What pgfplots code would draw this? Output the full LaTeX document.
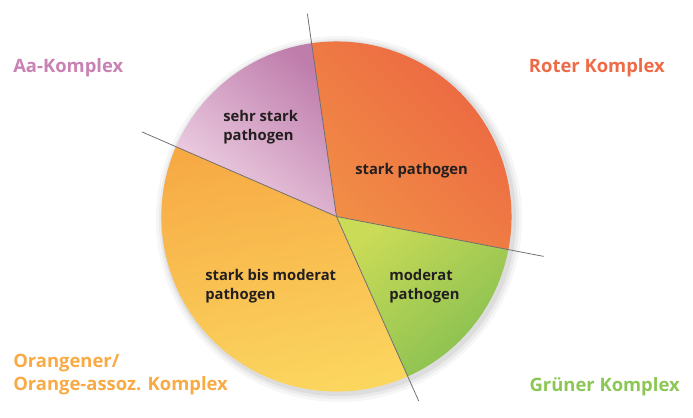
\documentclass[border=0pt]{standalone}
\usepackage{fontspec}
\setmainfont{Open Sans}
\usepackage{pgfplots}
\pgfplotsset{compat=1.18}

% slice shares in percent, counter-clockwise from the right divider
\def\startangle{-10.9}
\def\pRed{30.3}
\def\pAa{16.2}
\def\pOr{38.2}
\def\pGr{15.3}
\pgfmathsetmacro\aA{\startangle}
\pgfmathsetmacro\aB{\aA+3.6*\pRed}
\pgfmathsetmacro\aC{\aB+3.6*\pAa}
\pgfmathsetmacro\aD{\aC+3.6*\pOr}
\pgfmathsetmacro\aE{\aD+3.6*\pGr}
\def\R{4.375cm}

\definecolor{redA}{HTML}{EC6442}
\definecolor{redB}{HTML}{F18E46}
\definecolor{aaA}{HTML}{BF7DAC}
\definecolor{aaB}{HTML}{F0D4E6}
\definecolor{orA}{HTML}{F7AA44}
\definecolor{orB}{HTML}{FBD65F}
\definecolor{grA}{HTML}{CADB57}
\definecolor{grB}{HTML}{86BF51}
\definecolor{lblAa}{HTML}{C882B4}
\definecolor{lblRed}{HTML}{EE6B47}
\definecolor{lblOr}{HTML}{F8AA45}
\definecolor{lblGr}{HTML}{8CC756}
\definecolor{txt}{HTML}{231F20}
\definecolor{divider}{HTML}{6D6E71}

\begin{document}
\begin{tikzpicture}
\begin{axis}[
    x=0.025cm, y=0.025cm,
    xmin=0, xmax=693, ymin=0, ymax=417,
    hide axis, clip=false, scale only axis,
]
\path (axis cs:0,0) rectangle (axis cs:693,417);
% soft shadow
\fill[black, opacity=0.035] (axis cs:339,198) circle[radius=4.575cm];
\fill[black, opacity=0.045] (axis cs:339,198) circle[radius=4.5cm];
\fill[black, opacity=0.06] (axis cs:338.5,198.5) circle[radius=4.44cm];
% slices
\shade[top color=redA, bottom color=redB, shading angle=-45]
  (axis cs:336.5,200.5) -- ++(\aA:\R) arc[start angle=\aA, end angle=\aB, radius=\R] -- cycle;
\shade[top color=aaA, bottom color=aaB, shading angle=-40]
  (axis cs:336.5,200.5) -- ++(\aB:\R) arc[start angle=\aB, end angle=\aC, radius=\R] -- cycle;
\shade[top color=orA, bottom color=orB, shading angle=10]
  (axis cs:336.5,200.5) -- ++(\aC:\R) arc[start angle=\aC, end angle=\aD, radius=\R] -- cycle;
\shade[top color=grA, bottom color=grB, shading angle=40]
  (axis cs:336.5,200.5) -- ++(\aD:\R) arc[start angle=\aD, end angle=\aE, radius=\R] -- cycle;
% dividers
\draw[divider, line width=0.55pt] (axis cs:336.5,200.5) -- ++(\aA:5.27cm);
\draw[divider, line width=0.55pt] (axis cs:336.5,200.5) -- ++(\aB:5.12cm);
\draw[divider, line width=0.55pt] (axis cs:336.5,200.5) -- ++(\aC:5.3cm);
\draw[divider, line width=0.55pt] (axis cs:336.5,200.5) -- ++(\aD:5.05cm);
% outer labels
\begin{scope}[every node/.style={inner sep=0pt, font=\fontsize{13.1}{16}\selectfont\bfseries}]
\node[lblAa, anchor=base west] at (axis cs:13,345) {Aa-Komplex};
\node[lblRed, anchor=base east] at (axis cs:665,345) {Roter Komplex};
\node[lblOr, anchor=base west] at (axis cs:13,50) {Orangener/};
\node[lblOr, anchor=base west] at (axis cs:13,27) {Orange-assoz. Komplex};
\node[lblGr, anchor=base east] at (axis cs:680,26) {Grüner Komplex};
\end{scope}
% inner labels
\begin{scope}[every node/.style={inner sep=0pt, txt, font=\fontsize{10.5}{12}\selectfont\bfseries}]
\node[anchor=base west] at (axis cs:223,296) {sehr stark};
\node[anchor=base west] at (axis cs:223,277) {pathogen};
\node[anchor=base west] at (axis cs:355,243) {stark pathogen};
\node[anchor=base west] at (axis cs:205,137) {stark bis moderat};
\node[anchor=base west] at (axis cs:205,118) {pathogen};
\node[anchor=base west] at (axis cs:389,137) {moderat};
\node[anchor=base west] at (axis cs:389,118) {pathogen};
\end{scope}
\end{axis}
\end{tikzpicture}
\end{document}
